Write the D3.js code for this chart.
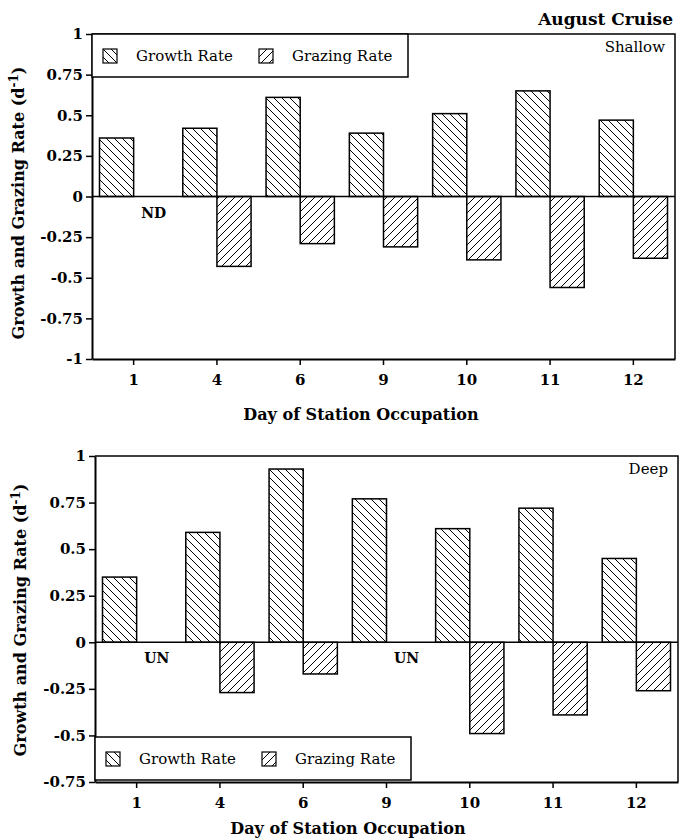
<!DOCTYPE html>
<html>
<head>
<meta charset="utf-8">
<script src="https://cdn.jsdelivr.net/npm/d3@7"></script>
<style>
  body { margin: 0; background: #fff; }
  svg { display: block; font-family: "DejaVu Serif", serif; }
</style>
</head>
<body>
<svg id="chart" width="679" height="840"></svg>
<script>
// days on which each station was occupied
var days = ["1", "4", "6", "9", "10", "11", "12"];

// shallow samples
var shallowGrowth = [0.36, 0.42, 0.61, 0.39, 0.51, 0.65, 0.47];
var shallowGrazing = [null, -0.43, -0.29, -0.31, -0.39, -0.56, -0.38];
var shallowTicks = [1, 0.75, 0.5, 0.25, 0, -0.25, -0.5, -0.75, -1];
var shallowNotes = [{ day: "1", text: "ND" }];

// deep samples
var deepGrowth = [0.35, 0.59, 0.93, 0.77, 0.61, 0.72, 0.45];
var deepGrazing = [null, -0.27, -0.17, null, -0.49, -0.39, -0.26];
var deepTicks = [1, 0.75, 0.5, 0.25, 0, -0.25, -0.5, -0.75];
var deepNotes = [{ day: "1", text: "UN" }, { day: "9", text: "UN" }];

var legendLabels = ["Growth Rate", "Grazing Rate"];

var svg = d3.select("#chart");
var defs = svg.append("defs");

// hatch fills: "\" for growth, "/" for grazing
var hatch = function(id, d) {
  defs.append("pattern")
      .attr("id", id)
      .attr("patternUnits", "userSpaceOnUse")
      .attr("width", 8)
      .attr("height", 8)
    .append("path")
      .attr("d", d)
      .attr("stroke", "#000")
      .attr("stroke-width", 1)
      .attr("fill", "none");
};
hatch("growthHatch", "M-1,-1L9,9M-1,7L1,9M7,-1L9,1");
hatch("grazeHatch", "M-1,9L9,-1M-1,1L1,-1M7,9L9,7");

svg.append("text")
    .attr("x", 673).attr("y", 25)
    .attr("text-anchor", "end")
    .attr("font-weight", "bold")
    .attr("font-size", 17)
    .text("August Cruise");

var drawPanel = function(opt) {
  var g = svg.append("g");
  var x = d3.scaleBand().domain(days).range([opt.left, opt.right]);
  var y = d3.scaleLinear().domain(opt.domain).range([opt.bottom, opt.top]);
  var bw = x.bandwidth() * 0.41;
  var cx = function(d) { return x(d) + x.bandwidth() / 2; };

  var rows = days.map(function(d, i) {
    return { day: d, growth: opt.growth[i], graze: opt.grazing[i] };
  });

  // growth bars (left of tick)
  g.selectAll("rect.growth")
    .data(rows)
    .enter().append("rect")
      .attr("class", "growth")
      .attr("x", function(d) { return cx(d.day) - bw; })
      .attr("y", function(d) { return y(d.growth); })
      .attr("width", bw)
      .attr("height", function(d) { return y(0) - y(d.growth); })
      .attr("fill", "url(#growthHatch)")
      .attr("stroke", "#000")
      .attr("stroke-width", 1.5);

  // grazing bars (right of tick)
  g.selectAll("rect.graze")
    .data(rows.filter(function(d) { return d.graze !== null; }))
    .enter().append("rect")
      .attr("class", "graze")
      .attr("x", function(d) { return cx(d.day); })
      .attr("y", y(0))
      .attr("width", bw)
      .attr("height", function(d) { return y(d.graze) - y(0); })
      .attr("fill", "url(#grazeHatch)")
      .attr("stroke", "#000")
      .attr("stroke-width", 1.5);

  g.selectAll("text.note")
    .data(opt.notes)
    .enter().append("text")
      .attr("x", function(d) { return cx(d.day) + bw / 2 + 3; })
      .attr("y", y(0) + 21)
      .attr("text-anchor", "middle")
      .attr("font-weight", "bold")
      .attr("font-size", 14)
      .text(function(d) { return d.text; });

  // zero line
  g.append("line")
      .attr("x1", opt.left).attr("x2", opt.right)
      .attr("y1", y(0)).attr("y2", y(0))
      .attr("stroke", "#000").attr("stroke-width", 1.5);

  // top and right frame
  g.append("path")
      .attr("d", "M" + opt.left + "," + opt.top + "H" + opt.right + "V" + opt.bottom)
      .attr("fill", "none")
      .attr("stroke", "#000")
      .attr("stroke-width", 1.5);

  var yAxis = g.append("g")
      .attr("transform", "translate(" + opt.left + ",0)")
      .call(d3.axisLeft(y).tickValues(opt.ticks).tickSize(6).tickSizeOuter(0)
        .tickFormat(function(d) { return String(d); }));
  var xAxis = g.append("g")
      .attr("transform", "translate(0," + opt.bottom + ")")
      .call(d3.axisBottom(x).tickSize(6).tickSizeOuter(0).tickPadding(9));

  [yAxis, xAxis].forEach(function(ax) {
    ax.select(".domain").attr("stroke-width", 2);
    ax.selectAll(".tick line").attr("stroke-width", 1.5);
    ax.selectAll("text")
      .attr("font-family", "DejaVu Serif, serif")
      .attr("font-weight", "bold")
      .attr("font-size", 15)
      .attr("fill", "#000");
  });

  // axis titles
  var ytitle = g.append("text")
      .attr("transform", "translate(" + opt.ytitleX + "," + opt.ytitleY + ") rotate(-90)")
      .attr("text-anchor", "middle")
      .attr("font-weight", "bold")
      .attr("font-size", 16);
  ytitle.append("tspan").text("Growth and Grazing Rate (d");
  ytitle.append("tspan").attr("dy", -6).attr("font-size", 12).text("-1");
  ytitle.append("tspan").attr("dy", 6).text(")");

  g.append("text")
      .attr("x", opt.xtitleX)
      .attr("y", opt.xtitleY)
      .attr("text-anchor", "middle")
      .attr("font-weight", "bold")
      .attr("font-size", 16)
      .text("Day of Station Occupation");

  g.append("text")
      .attr("x", opt.right - 10)
      .attr("y", opt.top + 18)
      .attr("text-anchor", "end")
      .attr("font-size", 15)
      .text(opt.label);

  // legend box
  var lg = g.append("g").attr("transform", "translate(" + opt.left + "," + opt.legendY + ")");
  lg.append("rect")
      .attr("width", 316).attr("height", 43)
      .attr("fill", "#fff")
      .attr("stroke", "#000").attr("stroke-width", 1.5);
  var items = lg.selectAll("g.item")
    .data(legendLabels)
    .enter().append("g")
      .attr("transform", function(d, i) { return "translate(" + (11 + i * 156) + ",15)"; });
  items.append("rect")
      .attr("width", 14).attr("height", 14)
      .attr("fill", function(d, i) { return i === 0 ? "url(#growthHatch)" : "url(#grazeHatch)"; })
      .attr("stroke", "#000").attr("stroke-width", 1.2);
  items.append("text")
      .attr("x", 33).attr("y", 12)
      .attr("font-size", 15)
      .text(function(d) { return d; });
};

drawPanel({
  left: 92, right: 675, top: 34, bottom: 359,
  domain: [-1, 1], ticks: shallowTicks,
  growth: shallowGrowth, grazing: shallowGrazing, notes: shallowNotes,
  label: "Shallow", legendY: 34,
  ytitleX: 24, ytitleY: 203, xtitleX: 361, xtitleY: 420
});

drawPanel({
  left: 95, right: 678, top: 456, bottom: 782,
  domain: [-0.75, 1], ticks: deepTicks,
  growth: deepGrowth, grazing: deepGrazing, notes: deepNotes,
  label: "Deep", legendY: 737,
  ytitleX: 26, ytitleY: 620, xtitleX: 348, xtitleY: 834
});
</script>
</body>
</html>
